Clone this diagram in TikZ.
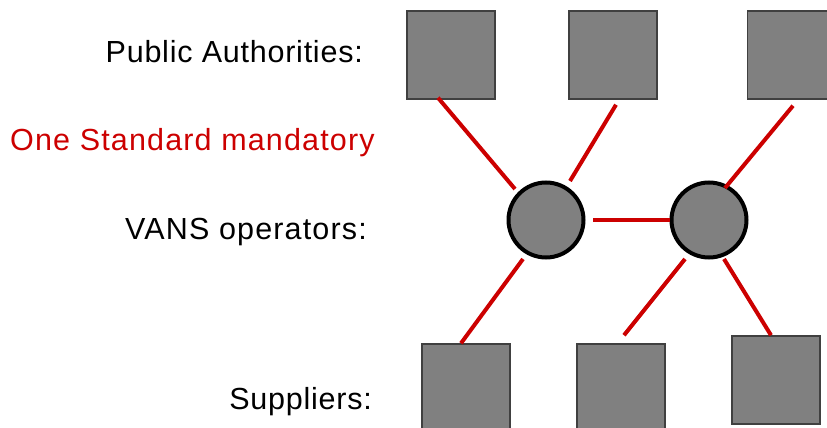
\documentclass[tikz,border=0pt]{standalone}
\usepackage{fontspec}
\setmainfont{Liberation Sans}[LetterSpace=2.5]
\usetikzlibrary{calc}
\definecolor{linkred}{RGB}{204,0,0}
\definecolor{boxgray}{RGB}{128,128,128}
\definecolor{boxedge}{RGB}{64,64,64}
\tikzset{
  party/.style={draw=boxedge, line width=1.5pt, fill=boxgray, minimum size=88pt, inner sep=0pt},
  hub/.style={circle, draw=black, line width=4pt, fill=boxgray, minimum size=75pt, inner sep=0pt},
  link/.style={draw=linkred, line width=4pt},
  caption/.style={font=\fontsize{30.5}{36}\selectfont, inner sep=0pt}
}
\begin{document}
\begin{tikzpicture}[x=1pt, y=-1pt]
\useasboundingbox (0,0) rectangle (827,428);
\begin{scope}
\clip (0,0) rectangle (827,428);
% public authorities
\node[party] (p1) at (451,55) {};
\node[party] (p2) at (613,55) {};
\node[party] (p3) at (791.5,55) {};
% VANS operators
\node[hub] (c1) at (546,220) {};
\node[hub] (c2) at (709,220) {};
% suppliers
\node[party] (q1) at (466,388) {};
\node[party] (q2) at (621,388) {};
\node[party] (q3) at (776,380) {};
% connections
\draw[link] ($(p1.south)+(-13,-2)$) -- ($(c1)+(-31,-31)$);
\draw[link] ($(p2.south)+(3,5)$) -- ($(c1)+(24,-39)$);
\draw[link] ($(p3.south)+(1.5,6)$) -- ($(c2)+(16,-32)$);
\draw[link] ($(c1)+(47,0)$) -- (c2.west);
\draw[link] ($(c1)+(-23,39)$) -- ($(q1.north)+(-5,0)$);
\draw[link] ($(c2)+(-24,39)$) -- ($(q2.north)+(3,-8)$);
\draw[link] ($(c2)+(15,39)$) -- ($(q3.north)+(-5,0)$);
\end{scope}
% row labels
\node[caption, anchor=base east] (lpa) at (363,63) {Public Authorities:};
\node[caption, anchor=base west, text=linkred] (lstd) at (10,150) {\addfontfeature{LetterSpace=3.8}One Standard mandatory};
\node[caption, anchor=base east] (lvans) at (367,239) {\addfontfeature{LetterSpace=3.8}VANS operators:};
\node[caption, anchor=base east] (lsup) at (372,409) {Suppliers:};
\end{tikzpicture}
\end{document}
